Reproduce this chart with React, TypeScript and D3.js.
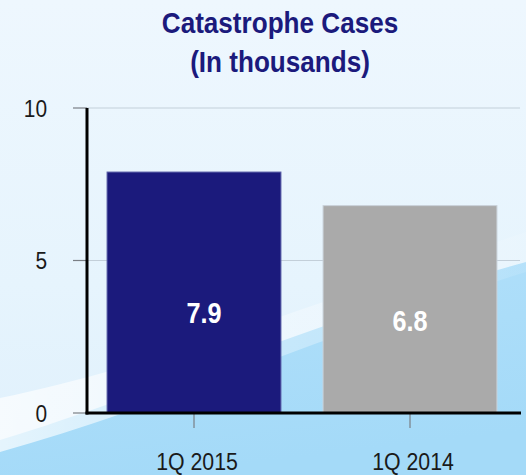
import React from "react";
import * as d3 from "d3";

const categories = ["1Q 2015", "1Q 2014"];
const values = [7.9, 6.8];
const barColors = ["#1b1a7c", "#aaaaaa"];
const barStrokes = ["#5a5fa8", "#c9d2da"];
const yTicks = [0, 5, 10];
const titleLines = ["Catastrophe Cases", "(In thousands)"];

const W = 526;
const H = 475;
const SX = 0.87;
const FONT = "'Liberation Sans', Arial, sans-serif";

export default function App() {
  const y = d3.scaleLinear().domain([0, 10]).range([413, 108]);
  const x = d3
    .scaleBand<string>()
    .domain(categories)
    .range([86, 518])
    .paddingInner(0.195)
    .paddingOuter(0.0975);

  const axisX = 87;
  const axisRight = 521;
  // label tweaks to match reference placement
  const labelDx = [10, 0];
  const labelDy = [30.5, 21.7];

  const T = (px: number, py: number, content: string, props: any) => (
    <g key={props.key} transform={`translate(${px},${py}) scale(${SX},1)`}>
      <text x={0} y={0} {...props}>
        {content}
      </text>
    </g>
  );

  return (
    <svg
      width={W}
      height={H}
      style={{ position: "absolute", left: 0, top: 0, display: "block" }}
    >
      <defs>
        <linearGradient id="bg" x1="0" y1="0" x2="0" y2="1">
          <stop offset="0" stopColor="#eef7fe" />
          <stop offset="0.6" stopColor="#e6f4fd" />
          <stop offset="1" stopColor="#dff0fc" />
        </linearGradient>
        <linearGradient id="blue" x1="0" y1="0" x2="0.3" y2="1">
          <stop offset="0" stopColor="#b2e0fa" />
          <stop offset="1" stopColor="#a4daf8" />
        </linearGradient>
        <linearGradient id="streak" x1="0" y1="0" x2="1" y2="0">
          <stop offset="0" stopColor="#ffffff" stopOpacity="0.7" />
          <stop offset="0.5" stopColor="#ffffff" stopOpacity="0.35" />
          <stop offset="1" stopColor="#ffffff" stopOpacity="0.1" />
        </linearGradient>
      </defs>
      <rect x={0} y={0} width={W} height={H} fill="url(#bg)" />
      <path
        d={`M0,${H} L0,440 C150,395 330,315 ${W},262 L${W},${H} Z`}
        fill="url(#blue)"
      />
      <path
        d={`M0,398 C150,368 330,298 ${W},232 L${W},272 C330,332 160,408 0,452 Z`}
        fill="url(#streak)"
      />

      {titleLines.map((t, i) =>
        T(280, 33 + i * 39, t, {
          textAnchor: "middle",
          fontFamily: FONT,
          fontWeight: "bold",
          fontSize: 30,
          fill: "#1b1a7c",
          key: "title" + i,
        })
      )}

      {/* gridlines */}
      {yTicks
        .filter((t) => t > 0)
        .map((t) => (
          <line
            key={"g" + t}
            x1={axisX}
            x2={520}
            y1={y(t)}
            y2={y(t)}
            stroke="#c3cfd9"
            strokeWidth={1.2}
          />
        ))}

      {/* bars */}
      {values.map((v, i) => (
        <rect
          key={"b" + i}
          x={x(categories[i])}
          y={y(v)}
          width={x.bandwidth()}
          height={y(0) - y(v)}
          fill={barColors[i]}
          stroke={barStrokes[i]}
          strokeWidth={1}
        />
      ))}

      {/* y ticks */}
      {yTicks.map((t) => (
        <g key={"t" + t}>
          <line
            x1={73}
            x2={axisX}
            y1={y(t)}
            y2={y(t)}
            stroke="#7a7f85"
            strokeWidth={1.2}
          />
          {T(47, y(t) + 8.5, String(t), {
            key: "tl" + t,
            textAnchor: "end",
            fontFamily: FONT,
            fontSize: 24,
            fill: "#1a1a1a",
          })}
        </g>
      ))}

      {/* x ticks */}
      {categories.map((c) => (
        <line
          key={"xt" + c}
          x1={(x(c) as number) + x.bandwidth() / 2}
          x2={(x(c) as number) + x.bandwidth() / 2}
          y1={y(0)}
          y2={428}
          stroke="#7a7f85"
          strokeWidth={1.2}
        />
      ))}

      {/* axes */}
      <line
        x1={axisX}
        x2={axisX}
        y1={y(10)}
        y2={y(0) + 1.5}
        stroke="#000"
        strokeWidth={3}
      />
      <line
        x1={axisX - 1.5}
        x2={axisRight}
        y1={y(0)}
        y2={y(0)}
        stroke="#000"
        strokeWidth={3}
      />

      {/* value labels */}
      {values.map((v, i) =>
        T(
          (x(categories[i]) as number) + x.bandwidth() / 2 + labelDx[i],
          y(v / 2) + labelDy[i],
          v.toFixed(1),
          {
            key: "v" + i,
            textAnchor: "middle",
            fontFamily: FONT,
            fontWeight: "bold",
            fontSize: 29,
            fill: "#ffffff",
          }
        )
      )}

      {/* category labels */}
      {categories.map((c) =>
        T((x(c) as number) + x.bandwidth() / 2 + 3, 470, c, {
          key: "c" + c,
          textAnchor: "middle",
          fontFamily: FONT,
          fontSize: 24.5,
          fill: "#1a1a1a",
        })
      )}
    </svg>
  );
}
